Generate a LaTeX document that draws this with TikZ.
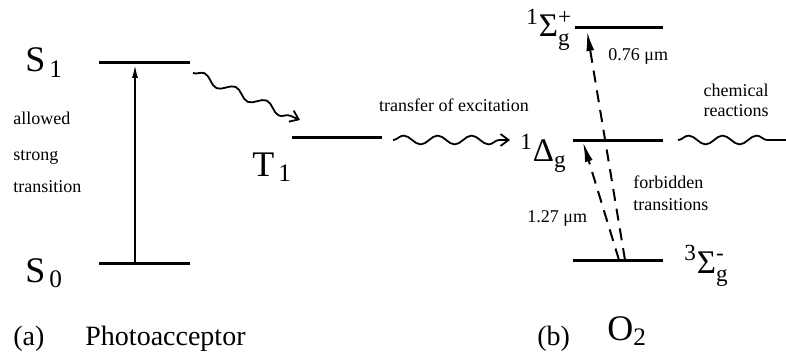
\documentclass[tikz,border=0pt]{standalone}
\usepackage{amsmath}
\usepackage{fontspec}
\setmainfont{Liberation Serif}
\usetikzlibrary{arrows.meta,positioning,decorations.pathmorphing}

\begin{document}
\begin{tikzpicture}[x=0.5pt,y=-0.5pt,>=Latex,
  level/.style={line width=1.5pt},
  wave/.style={line width=0.9pt,decorate,
    decoration={snake,amplitude=2.2pt,segment length=17pt,post length=2pt}},
  forbid/.style={line width=1pt,dash pattern=on 6pt off 4pt,
    -{Latex[length=10pt,width=4pt]}},
  small/.style={font=\fontsize{9}{11}\selectfont,inner sep=0pt},
  state/.style={font=\fontsize{18}{20}\selectfont,inner sep=0pt},
  term/.style={font=\fontsize{16.5}{18}\selectfont,inner sep=0pt},
  caption/.style={font=\fontsize{14}{16}\selectfont,inner sep=0pt}]
\useasboundingbox (0,0) rectangle (786,353);
\coordinate (s1a) at (99,63);   \coordinate (s1b) at (190,63);
\coordinate (s0a) at (99,263);  \coordinate (s0b) at (190,263);
\coordinate (t1a) at (292,137); \coordinate (t1b) at (382,137);
\coordinate (sga) at (575,28);  \coordinate (sgb) at (663,28);
\coordinate (dga) at (573,140); \coordinate (dgb) at (663,140);
\coordinate (tga) at (573,260); \coordinate (tgb) at (663,260);
\coordinate (exc0) at (135,263); \coordinate (exc1) at (135,64);
\coordinate (isc0) at (193,73);  \coordinate (isc1) at (300,120);
\coordinate (en0) at (393,140);  \coordinate (en1) at (510,140);
\coordinate (chem0) at (678,140); \coordinate (chem1) at (786,140);
\coordinate (fa0) at (625,260);  \coordinate (fa1) at (587,31);
\coordinate (fb0) at (619,260);  \coordinate (fb1) at (583,142);
\draw[level] (s1a) -- (s1b);
\draw[level] (s0a) -- (s0b);
\draw[level] (t1a) -- (t1b);
\draw[level] (sga) -- (sgb);
\draw[level] (dga) -- (dgb);
\draw[level] (tga) -- (tgb);
\draw[line width=1pt,-{Latex[length=7pt,width=3pt]}] (exc0) -- (exc1);
\draw[wave,-{Straight Barb[length=4pt,width=6pt]}] (isc0) -- (isc1);
\draw[wave,-{Straight Barb[length=4pt,width=6pt]}] (en0) -- (en1);
\draw[wave] (chem0) -- (chem1);
\draw[forbid] (fa0) -- (fa1);
\draw[forbid] (fb0) -- (fb1);
\node[state,anchor=base west] (sone) at (25,72) {$\text{S}_{\,\text{1}}$};
\node[state,anchor=base west] (szero) at (25,282) {$\text{S}_{\,\text{0}}$};
\node[state,anchor=base west] (tone) at (252,176) {$\text{T}_{\,\text{1}}$};
\node[small,anchor=base west] (allow) at (13,125) {allowed};
\node[small,anchor=base west] (strong) at (13,160) {strong};
\node[small,anchor=base west] (trans) at (13,192) {transition};
\node[small,anchor=base] (transfer) at (454,112) {transfer of excitation};
\node[term,anchor=base west] (delta) at (520,162) {$^{\text{1}}\text{Δ}_{\text{g}}$};
\node[term,anchor=base west] (sigplus) at (526,37) {$^{\text{1}}\text{Σ}_{\text{g}}^{\text{+}}$};
\node[term,anchor=base west] (sigminus) at (684,273) {$^{\text{3}}\text{Σ}_{\text{g}}^{\text{-}}$};
\node[small,anchor=base west] (red) at (608,61) {0.76 μm};
\node[small,anchor=base west] (ir) at (527,222) {1.27 μm};
\node[small,anchor=base] (chemical) at (736,97) {chemical};
\node[small,anchor=base] (reactions) at (736,117) {reactions};
\node[small,anchor=base west] (forbidden) at (633,188) {forbidden};
\node[small,anchor=base west] (transitions) at (633,210) {transitions};
\node[caption,anchor=base west] (parta) at (13,345) {(a)};
\node[caption,anchor=base west] (photo) at (85,345) {Photoacceptor};
\node[caption,anchor=base west] (partb) at (537,345) {(b)};
\node[state,anchor=base west] (oxygen) at (607,340) {$\text{O}_{\text{2}}$};
\end{tikzpicture}
\end{document}
